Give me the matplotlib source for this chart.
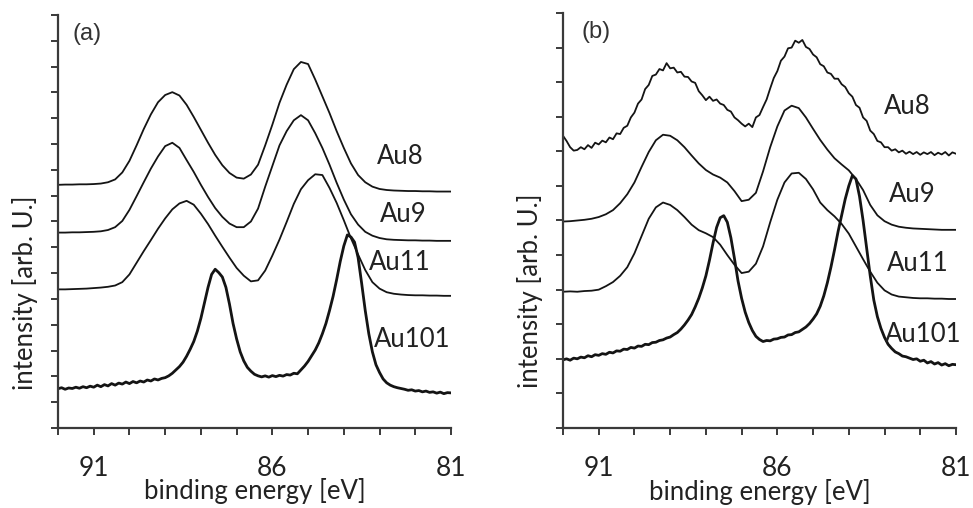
import numpy as np
import matplotlib.pyplot as plt

# sampling positions (binding energy, eV)
energy = np.linspace(92.0, 81.0, 56)        # 0.2 eV step
energy_fine = np.linspace(92.0, 81.0, 111)  # 0.1 eV step

# ---- panel (a) ----
a_au8 = [9.42, 9.43, 9.43, 9.44, 9.44, 9.45, 9.47, 9.52, 9.63, 9.90,
         10.35, 10.95, 11.58, 12.15, 12.62, 12.90, 13.01, 12.88, 12.52, 12.05,
         11.55, 11.05, 10.58, 10.18, 9.88, 9.70, 9.66, 9.82, 10.20, 10.95,
         11.75, 12.60, 13.30, 13.90, 14.18, 14.10, 13.50, 12.85, 12.20, 11.50,
         10.85, 10.25, 9.80, 9.52, 9.35, 9.26, 9.22, 9.20, 9.19, 9.18,
         9.18, 9.17, 9.17, 9.16, 9.16, 9.16]
a_au9 = [7.57, 7.57, 7.58, 7.58, 7.59, 7.60, 7.62, 7.67, 7.78, 8.02,
         8.45, 8.98, 9.52, 10.05, 10.52, 10.92, 11.05, 10.85, 10.38, 9.92,
         9.42, 8.95, 8.52, 8.18, 7.92, 7.78, 7.78, 8.00, 8.50, 9.35,
         10.15, 10.95, 11.50, 11.92, 12.12, 11.92, 11.42, 10.85, 10.20, 9.50,
         8.85, 8.28, 7.88, 7.60, 7.45, 7.36, 7.31, 7.29, 7.28, 7.27,
         7.27, 7.26, 7.26, 7.25, 7.25, 7.25]
a_au11 = [5.37, 5.37, 5.38, 5.39, 5.40, 5.42, 5.44, 5.47, 5.52, 5.65,
          5.95, 6.40, 6.85, 7.28, 7.72, 8.12, 8.47, 8.70, 8.80, 8.65,
          8.30, 7.90, 7.45, 7.02, 6.60, 6.20, 5.90, 5.68, 5.72, 6.10,
          6.68, 7.30, 7.98, 8.68, 9.25, 9.60, 9.83, 9.80, 9.30, 8.72,
          8.05, 7.35, 6.72, 6.12, 5.65, 5.40, 5.26, 5.20, 5.17, 5.15,
          5.14, 5.14, 5.13, 5.13, 5.12, 5.12]
a_au101 = [1.52, 1.56, 1.50, 1.55, 1.53, 1.58, 1.54, 1.60, 1.56, 1.62,
           1.58, 1.66, 1.60, 1.68, 1.63, 1.72, 1.66, 1.74, 1.70, 1.78,
           1.72, 1.80, 1.75, 1.82, 1.78, 1.86, 1.82, 1.90, 1.86, 1.92,
           1.95, 2.02, 2.12, 2.25, 2.38, 2.55, 2.78, 3.05, 3.35, 3.75,
           4.25, 4.85, 5.45, 5.95, 6.15, 6.02, 5.85, 5.45, 4.80, 4.05,
           3.45, 2.95, 2.60, 2.35, 2.20, 2.08, 2.02, 1.98, 2.02, 1.97,
           2.03, 1.99, 2.04, 2.01, 2.07, 2.05, 2.12, 2.10, 2.25, 2.40,
           2.58, 2.80, 3.02, 3.30, 3.65, 4.05, 4.55, 5.10, 5.75, 6.45,
           7.05, 7.48, 7.40, 7.20, 6.60, 5.60, 4.55, 3.65, 2.95, 2.45,
           2.15, 1.90, 1.75, 1.66, 1.60, 1.56, 1.53, 1.50, 1.46, 1.48,
           1.43, 1.45, 1.40, 1.43, 1.38, 1.40, 1.35, 1.39, 1.33, 1.37,
           1.36]

# ---- panel (b) ----
b_au8 = [8.45, 8.30, 8.12, 8.02, 8.04, 8.12, 8.06, 8.18, 8.10, 8.25,
         8.20, 8.31, 8.26, 8.40, 8.35, 8.52, 8.50, 8.68, 8.74, 8.98,
         9.12, 9.38, 9.50, 9.80, 9.92, 10.18, 10.22, 10.38, 10.34, 10.55,
         10.40, 10.42, 10.28, 10.30, 10.16, 10.15, 10.02, 9.98, 9.74, 9.62,
         9.48, 9.58, 9.46, 9.50, 9.38, 9.34, 9.20, 9.15, 8.98, 8.90,
         8.80, 8.72, 8.80, 8.70, 8.98, 9.05, 9.28, 9.50, 9.82, 10.12,
         10.32, 10.62, 10.74, 10.98, 11.00, 11.20, 11.14, 11.22, 11.02, 10.96,
         10.80, 10.72, 10.52, 10.46, 10.28, 10.24, 10.10, 10.10, 9.94, 9.86,
         9.68, 9.58, 9.34, 9.26, 8.98, 8.88, 8.60, 8.50, 8.30, 8.26,
         8.12, 8.12, 8.02, 8.06, 7.97, 8.02, 7.93, 7.99, 7.92, 7.98,
         7.90, 7.97, 7.92, 7.98, 7.89, 7.96, 7.91, 7.98, 7.88, 7.97,
         7.93]
b_au9 = [5.97, 5.98, 6.00, 6.02, 6.05, 6.10, 6.18, 6.30, 6.50, 6.76,
         7.10, 7.55, 7.98, 8.32, 8.48, 8.45, 8.32, 8.12, 7.88, 7.65,
         7.46, 7.33, 7.24, 7.10, 6.85, 6.56, 6.60, 6.80, 7.42, 8.12,
         8.72, 9.18, 9.32, 9.25, 8.98, 8.65, 8.33, 8.05, 7.80, 7.62,
         7.45, 7.20, 6.88, 6.45, 6.15, 5.98, 5.88, 5.82, 5.79, 5.77,
         5.76, 5.75, 5.74, 5.73, 5.73, 5.73]
b_au11 = [3.94, 3.95, 3.94, 3.96, 3.97, 4.00, 4.10, 4.22, 4.40, 4.65,
          5.05, 5.55, 6.05, 6.38, 6.52, 6.45, 6.30, 6.10, 5.88, 5.72,
          5.63, 5.52, 5.30, 5.00, 4.72, 4.48, 4.52, 4.75, 5.25, 5.95,
          6.60, 7.10, 7.36, 7.38, 7.20, 6.90, 6.52, 6.30, 6.12, 5.90,
          5.62, 5.25, 4.88, 4.52, 4.20, 3.98, 3.86, 3.80, 3.78, 3.76,
          3.75, 3.75, 3.74, 3.74, 3.73, 3.73]
b_au101 = [1.97, 2.00, 1.96, 2.02, 2.00, 2.05, 2.03, 2.09, 2.06, 2.12,
           2.10, 2.15, 2.13, 2.19, 2.17, 2.23, 2.22, 2.28, 2.27, 2.33,
           2.31, 2.37, 2.36, 2.42, 2.41, 2.47, 2.48, 2.53, 2.55, 2.60,
           2.63, 2.70, 2.76, 2.86, 2.98, 3.12, 3.28, 3.50, 3.75, 4.05,
           4.40, 4.85, 5.35, 5.80, 6.08, 6.14, 5.95, 5.50, 4.90, 4.25,
           3.75, 3.35, 3.05, 2.82, 2.65, 2.56, 2.50, 2.53, 2.52, 2.57,
           2.58, 2.62, 2.63, 2.69, 2.70, 2.76, 2.78, 2.85, 2.92, 3.02,
           3.15, 3.30, 3.52, 3.82, 4.20, 4.65, 5.15, 5.68, 6.15, 6.62,
           7.00, 7.30, 7.20, 6.70, 6.00, 5.20, 4.40, 3.70, 3.22, 2.88,
           2.62, 2.42, 2.30, 2.20, 2.15, 2.08, 2.06, 2.02, 1.98, 2.00,
           1.93, 1.96, 1.88, 1.92, 1.85, 1.89, 1.82, 1.86, 1.80, 1.84,
           1.83]

names = ['Au8', 'Au9', 'Au11', 'Au101']
# label positions (energy, intensity) for each panel
a_label_pos = [(82.42, 10.5), (82.34, 8.26), (82.42, 6.4), (82.08, 3.41)]
b_label_pos = [(82.35, 9.29), (82.21, 6.74), (82.07, 4.76), (81.93, 2.69)]

xticks = list(range(81, 93))
xticklabels = ['81', '', '', '', '', '86', '', '', '', '', '91', '']

FONT = 'Lato'
FS = 19
line_c = '#141414'
axis_c = '#3a3a3a'
text_c = '#222222'

fig = plt.figure(figsize=(9.73, 5.08), dpi=100)
ax_a = fig.add_axes([0.0596, 0.1575, 0.4039, 0.813])
ax_b = fig.add_axes([0.5786, 0.1575, 0.4039, 0.8169])


def draw_panel(ax, curves, label_pos, ymax, tag, tag_x, ylab_y):
    for (x, y), nm in zip(curves, names):
        lw = 2.0 if nm == 'Au101' else 1.3
        ax.plot(x, y, color=line_c, lw=lw)
    for (ex, ey), nm in zip(label_pos, names):
        ax.text(ex, ey, nm, ha='center', va='center', fontsize=18.5,
                family=FONT, color=text_c)
    ax.set_xlim(92, 81)
    ax.set_ylim(0, ymax)
    ax.set_xticks(xticks)
    ax.set_xticklabels(xticklabels, family=FONT, fontsize=FS, color=text_c)
    ax.set_yticks(range(0, ymax + 1))
    ax.set_yticklabels([])
    for s in ['top', 'right']:
        ax.spines[s].set_visible(False)
    for s in ['left', 'bottom']:
        ax.spines[s].set_color(axis_c)
        ax.spines[s].set_linewidth(1.6)
    ax.tick_params(direction='out', length=5, width=1.4, color=axis_c, pad=15)
    ax.set_xlabel('binding energy [eV]', family=FONT, fontsize=18.5, color=text_c)
    ax.set_ylabel('intensity [arb. U.]', family=FONT, fontsize=18.5, color=text_c)
    ax.xaxis.set_label_coords(0.5, -0.122)
    ax.yaxis.set_label_coords(-0.05, ylab_y)
    ax.text(tag_x, 0.955, tag, transform=ax.transAxes, ha='left', va='center',
            fontsize=17, family='Liberation Sans', color='#333333')


draw_panel(ax_a, [(energy, a_au8), (energy, a_au9), (energy, a_au11),
                  (energy_fine, a_au101)], a_label_pos, 16, '(a)', 0.036, 0.327)
draw_panel(ax_b, [(energy_fine, b_au8), (energy, b_au9), (energy, b_au11),
                  (energy_fine, b_au101)], b_label_pos, 12, '(b)', 0.046, 0.33)

fig.savefig('out.png', dpi=100)
